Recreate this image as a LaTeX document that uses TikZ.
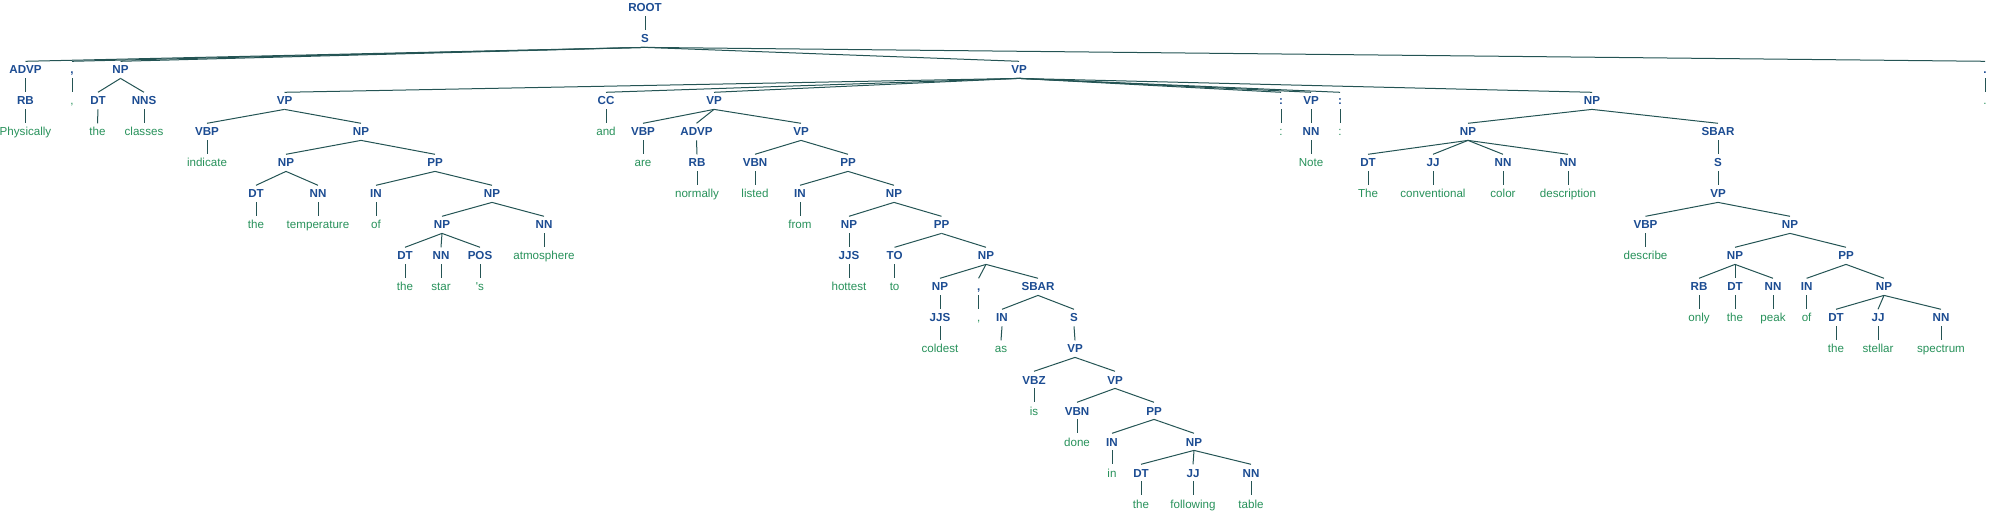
\documentclass[tikz,border=0pt]{standalone}
\usepackage{fontspec}
\newfontfamily\treefont{Liberation Sans}
\usetikzlibrary{positioning}
\definecolor{tagblue}{HTML}{1C4C92}
\definecolor{wordgreen}{HTML}{27915A}
\definecolor{branch}{HTML}{245454}

\tikzset{
  tag/.style={anchor=base,inner sep=0pt,text height=8.3pt,text depth=0pt,outer ysep=4.4pt,
    text=tagblue,font=\treefont\bfseries\fontsize{11.6}{12}\selectfont},
  word/.style={tag,text=wordgreen,font=\treefont\fontsize{11.6}{12}\selectfont},
  edge/.style={branch,line width=1pt}
}

\begin{document}
\begin{tikzpicture}[x=1pt,y=-31pt]
\useasboundingbox (0,-0.387) rectangle (1992,16.161);
% levels 0-2
\node[tag] (root) at (645,0) {ROOT};
\node[tag] (s) at (645,1) {S};
\node[tag] (advp) at (25.5,2) {ADVP};
\node[tag] (pc1) at (72,2) {,};
\node[tag] (np1) at (120.5,2) {NP};
\node[tag] (vp) at (1019,2) {VP};
\node[tag] (pdot) at (1985,2) {.};
% level 3
\node[tag] (rb1) at (25.5,3) {RB};
\node[word] (wc1) at (72,3) {,};
\node[tag] (dt1) at (98,3) {DT};
\node[tag] (nns1) at (144,3) {NNS};
\node[tag] (vp1) at (284.5,3) {VP};
\node[tag] (cc) at (606,3) {CC};
\node[tag] (vp2) at (714,3) {VP};
\node[tag] (pcol1) at (1281,3) {:};
\node[tag] (vp3) at (1311,3) {VP};
\node[tag] (pcol2) at (1340,3) {:};
\node[tag] (np2) at (1592,3) {NP};
\node[word] (wdot) at (1985,3) {.};
% level 4
\node[word] (wphys) at (25.5,4) {Physically};
\node[word] (wthe1) at (97.5,4) {the};
\node[word] (wclasses) at (144,4) {classes};
\node[tag] (vbp1) at (207,4) {VBP};
\node[tag] (np3) at (361,4) {NP};
\node[word] (wand) at (606,4) {and};
\node[tag] (vbp2) at (643,4) {VBP};
\node[tag] (advp2) at (696.5,4) {ADVP};
\node[tag] (vp4) at (801,4) {VP};
\node[word] (wcol1) at (1281,4) {:};
\node[tag] (nn1) at (1311,4) {NN};
\node[word] (wcol2) at (1340,4) {:};
\node[tag] (np4) at (1468,4) {NP};
\node[tag] (sbar1) at (1718,4) {SBAR};
% level 5
\node[word] (windicate) at (207,5) {indicate};
\node[tag] (np5) at (286,5) {NP};
\node[tag] (pp1) at (435,5) {PP};
\node[word] (ware) at (643,5) {are};
\node[tag] (rb2) at (697,5) {RB};
\node[tag] (vbn1) at (755,5) {VBN};
\node[tag] (pp2) at (848,5) {PP};
\node[word] (wnote) at (1311,5) {Note};
\node[tag] (dt2) at (1368,5) {DT};
\node[tag] (jj1) at (1433,5) {JJ};
\node[tag] (nn2) at (1503,5) {NN};
\node[tag] (nn3) at (1568,5) {NN};
\node[tag] (s2) at (1718,5) {S};
% level 6
\node[tag] (dt3) at (256,6) {DT};
\node[tag] (nn4) at (318,6) {NN};
\node[tag] (in1) at (376,6) {IN};
\node[tag] (np6) at (492,6) {NP};
\node[word] (wnormally) at (697,6) {normally};
\node[word] (wlisted) at (755,6) {listed};
\node[tag] (in2) at (800,6) {IN};
\node[tag] (np7) at (894,6) {NP};
\node[word] (wThe) at (1368,6) {The};
\node[word] (wconv) at (1433,6) {conventional};
\node[word] (wcolor) at (1503,6) {color};
\node[word] (wdesc) at (1568,6) {description};
\node[tag] (vp5) at (1718,6) {VP};
% level 7
\node[word] (wthe2) at (256,7) {the};
\node[word] (wtemp) at (318,7) {temperature};
\node[word] (wof1) at (376,7) {of};
\node[tag] (np8) at (442,7) {NP};
\node[tag] (nn5) at (544,7) {NN};
\node[word] (wfrom) at (800,7) {from};
\node[tag] (np9) at (849,7) {NP};
\node[tag] (pp3) at (941.5,7) {PP};
\node[tag] (vbp3) at (1645.5,7) {VBP};
\node[tag] (np10) at (1790,7) {NP};
% level 8
\node[tag] (dt4) at (405,8) {DT};
\node[tag] (nn6) at (441,8) {NN};
\node[tag] (pos) at (480,8) {POS};
\node[word] (watmos) at (544,8) {atmosphere};
\node[tag] (jjs1) at (849,8) {JJS};
\node[tag] (to) at (894.6,8) {TO};
\node[tag] (np11) at (986,8) {NP};
\node[word] (wdescribe) at (1645.5,8) {describe};
\node[tag] (np12) at (1735,8) {NP};
\node[tag] (pp4) at (1846,8) {PP};
% level 9
\node[word] (wthe3) at (405,9) {the};
\node[word] (wstar) at (441,9) {star};
\node[word] (wpos) at (480,9) {'s};
\node[word] (whottest) at (849,9) {hottest};
\node[word] (wto) at (894.6,9) {to};
\node[tag] (np13) at (940,9) {NP};
\node[tag] (pc2) at (978.6,9) {,};
\node[tag] (sbar2) at (1038,9) {SBAR};
\node[tag] (rb3) at (1699,9) {RB};
\node[tag] (dt5) at (1735,9) {DT};
\node[tag] (nn7) at (1773,9) {NN};
\node[tag] (in3) at (1806.6,9) {IN};
\node[tag] (np14) at (1884,9) {NP};
% level 10
\node[tag] (jjs2) at (940,10) {JJS};
\node[word] (wc2) at (978.6,10) {,};
\node[tag] (in4) at (1002,10) {IN};
\node[tag] (s3) at (1074,10) {S};
\node[word] (wonly) at (1699,10) {only};
\node[word] (wthe4) at (1735,10) {the};
\node[word] (wpeak) at (1773,10) {peak};
\node[word] (wof2) at (1806.6,10) {of};
\node[tag] (dt6) at (1836,10) {DT};
\node[tag] (jj2) at (1878,10) {JJ};
\node[tag] (nn8) at (1941,10) {NN};
% level 11
\node[word] (wcoldest) at (940,11) {coldest};
\node[word] (was) at (1001,11) {as};
\node[tag] (vp6) at (1075,11) {VP};
\node[word] (wthe5) at (1836,11) {the};
\node[word] (wstellar) at (1878,11) {stellar};
\node[word] (wspectrum) at (1941,11) {spectrum};
% levels 12-16
\node[tag] (vbz) at (1034,12) {VBZ};
\node[tag] (vp7) at (1115,12) {VP};
\node[word] (wis) at (1034,13) {is};
\node[tag] (vbn2) at (1077,13) {VBN};
\node[tag] (pp5) at (1154,13) {PP};
\node[word] (wdone) at (1077,14) {done};
\node[tag] (in5) at (1112,14) {IN};
\node[tag] (np15) at (1194,14) {NP};
\node[word] (win) at (1112,15) {in};
\node[tag] (dt7) at (1141,15) {DT};
\node[tag] (jj3) at (1193,15) {JJ};
\node[tag] (nn9) at (1251,15) {NN};
\node[word] (wthe6) at (1141,16) {the};
\node[word] (wfollowing) at (1193,16) {following};
\node[word] (wtable) at (1251,16) {table};
% branches
\foreach \p/\c in {root/s, s/advp, s/pc1, s/np1, s/vp, s/pdot,
    advp/rb1, rb1/wphys, pc1/wc1, np1/dt1, np1/nns1, dt1/wthe1, nns1/wclasses, pdot/wdot,
    vp/vp1, vp/cc, vp/vp2, vp/pcol1, vp/vp3, vp/pcol2, vp/np2,
    vp1/vbp1, vp1/np3, vbp1/windicate, np3/np5, np3/pp1,
    np5/dt3, np5/nn4, dt3/wthe2, nn4/wtemp, pp1/in1, pp1/np6, in1/wof1,
    np6/np8, np6/nn5, np8/dt4, np8/nn6, np8/pos, dt4/wthe3, nn6/wstar, pos/wpos, nn5/watmos,
    cc/wand, vp2/vbp2, vp2/advp2, vp2/vp4, vbp2/ware, advp2/rb2, rb2/wnormally,
    vp4/vbn1, vp4/pp2, vbn1/wlisted, pp2/in2, pp2/np7, in2/wfrom,
    np7/np9, np7/pp3, np9/jjs1, jjs1/whottest, pp3/to, pp3/np11, to/wto,
    np11/np13, np11/pc2, np11/sbar2, np13/jjs2, jjs2/wcoldest, pc2/wc2,
    sbar2/in4, sbar2/s3, in4/was, s3/vp6, vp6/vbz, vp6/vp7, vbz/wis,
    vp7/vbn2, vp7/pp5, vbn2/wdone, pp5/in5, pp5/np15, in5/win,
    np15/dt7, np15/jj3, np15/nn9, dt7/wthe6, jj3/wfollowing, nn9/wtable,
    pcol1/wcol1, vp3/nn1, nn1/wnote, pcol2/wcol2,
    np2/np4, np2/sbar1, np4/dt2, np4/jj1, np4/nn2, np4/nn3,
    dt2/wThe, jj1/wconv, nn2/wcolor, nn3/wdesc,
    sbar1/s2, s2/vp5, vp5/vbp3, vp5/np10, vbp3/wdescribe,
    np10/np12, np10/pp4, np12/rb3, np12/dt5, np12/nn7, rb3/wonly, dt5/wthe4, nn7/wpeak,
    pp4/in3, pp4/np14, in3/wof2, np14/dt6, np14/jj2, np14/nn8,
    dt6/wthe5, jj2/wstellar, nn8/wspectrum}
  \draw[edge] (\p.south) -- (\c.north);
\end{tikzpicture}
\end{document}
